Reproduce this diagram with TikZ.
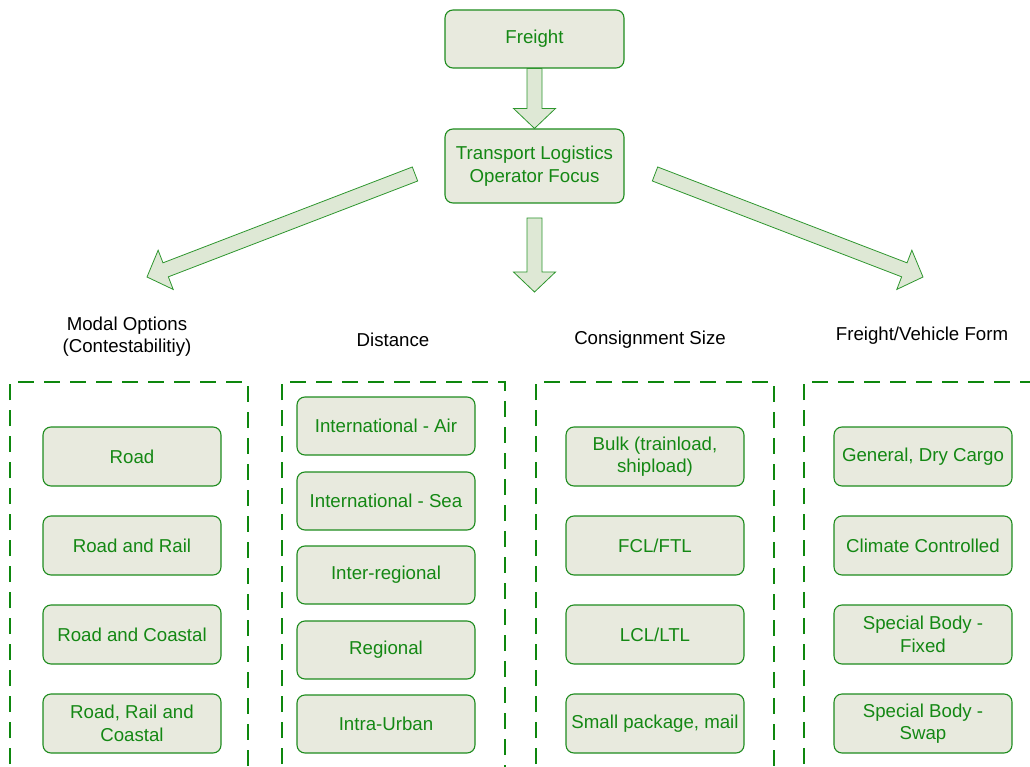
\documentclass[tikz,border=0pt]{standalone}
\usepackage{fontspec}
\setmainfont{Liberation Sans}
\usetikzlibrary{calc}
\definecolor{boxfill}{HTML}{E8EADE}
\definecolor{boxline}{HTML}{1E8C1E}
\definecolor{boxtext}{HTML}{148814}
\definecolor{arrowfill}{HTML}{DEE8D5}
\definecolor{arrowline}{HTML}{2E962E}
\definecolor{dashline}{HTML}{0E870E}

% block arrow from #1 to #2 (shaft half-width 7.5, head half-width 21, head length 20)
\newcommand{\blockarrow}[3]{%
  \coordinate (#3-hb) at ($(#2)!20pt!(#1)$);
  \draw[bigarrow]
    ($(#1)!7.5pt!90:(#2)$) -- ($(#3-hb)!7.5pt!-90:(#1)$) --
    ($(#3-hb)!21pt!-90:(#1)$) -- (#2) --
    ($(#3-hb)!21pt!90:(#1)$) -- ($(#3-hb)!7.5pt!90:(#1)$) --
    ($(#1)!7.5pt!-90:(#2)$) -- cycle;
}

\begin{document}
\begin{tikzpicture}[x=1pt,y=-1pt,
  font=\fontsize{18.67}{22.4}\selectfont,
  item/.style={draw=boxline, line width=1.1pt, fill=boxfill, rounded corners=8pt,
    text=boxtext, align=center, minimum width=178pt, minimum height=59pt,
    inner sep=2pt},
  heading/.style={text=black, align=center},
  bigarrow/.style={draw=arrowline, line width=0.8pt, fill=arrowfill, line join=miter},
  group/.style={draw=dashline, line width=2.4pt, dash pattern=on 16pt off 10pt}]
\useasboundingbox (0,0) rectangle (1030,767);
\clip (0,0) rectangle (1030,767);

% top of the hierarchy
\node[item, minimum width=179pt, minimum height=58pt] (freight) at (534.5,39) {Freight};
\node[item, minimum width=179pt, minimum height=74pt] (tlof) at (534.5,166)
  {Transport Logistics\\Operator Focus};

% ends of the open block arrows
\coordinate (lefttail) at (415,174);
\coordinate (lefttip) at (147,277);
\coordinate (righttail) at (655,174);
\coordinate (righttip) at (923,277);
\coordinate (midtail) at (534.5,218);
\coordinate (midtip) at (534.5,292);

\blockarrow{freight.south}{tlof.north}{a1}
\blockarrow{midtail}{midtip}{a2}
\blockarrow{lefttail}{lefttip}{a3}
\blockarrow{righttail}{righttip}{a4}

% column headings
\node[heading] (hmodal) at (127,336.5) {Modal Options\\(Contestabilitiy)};
\node[heading] (hdist) at (393,340) {Distance};
\node[heading] (hcons) at (650,340) {Consignment Size};
\node[heading] (hform) at (922,336) {Freight/Vehicle Form};

% dashed groups, open at the bottom
\draw[group] (10,790) -- (10,382) -- (248,382) -- (248,790);
\draw[group] (282,790) -- (282,382) -- (505,382) -- (505,790);
\draw[group] (536,790) -- (536,382) -- (774,382) -- (774,790);
\draw[group] (804,790) -- (804,382) -- (1050,382);

% modal options
\node[item] (road) at (132,456.5) {Road};
\node[item] (roadrail) at (132,545.5) {Road and Rail};
\node[item] (roadcoast) at (132,634.5) {Road and Coastal};
\node[item] (roadrailcoast) at (132,723.5) {Road, Rail and\\Coastal};

% distance
\node[item, minimum height=58pt] (intair) at (386,426) {International - Air};
\node[item, minimum height=58pt] (intsea) at (386,501) {International - Sea};
\node[item, minimum height=58pt] (interreg) at (386,575) {Inter-regional};
\node[item, minimum height=58pt] (regional) at (386,650) {Regional};
\node[item, minimum height=58pt] (intraurban) at (386,724) {Intra-Urban};

% consignment size
\node[item] (bulk) at (655,456.5) {Bulk (trainload,\\shipload)};
\node[item] (fcl) at (655,545.5) {FCL/FTL};
\node[item] (lcl) at (655,634.5) {LCL/LTL};
\node[item] (small) at (655,723.5) {Small package, mail};

% freight / vehicle form
\node[item] (general) at (923,456.5) {General, Dry Cargo};
\node[item] (climate) at (923,545.5) {Climate Controlled};
\node[item] (fixed) at (923,634.5) {Special Body -\\Fixed};
\node[item] (swap) at (923,723.5) {Special Body -\\Swap};
\end{tikzpicture}
\end{document}
